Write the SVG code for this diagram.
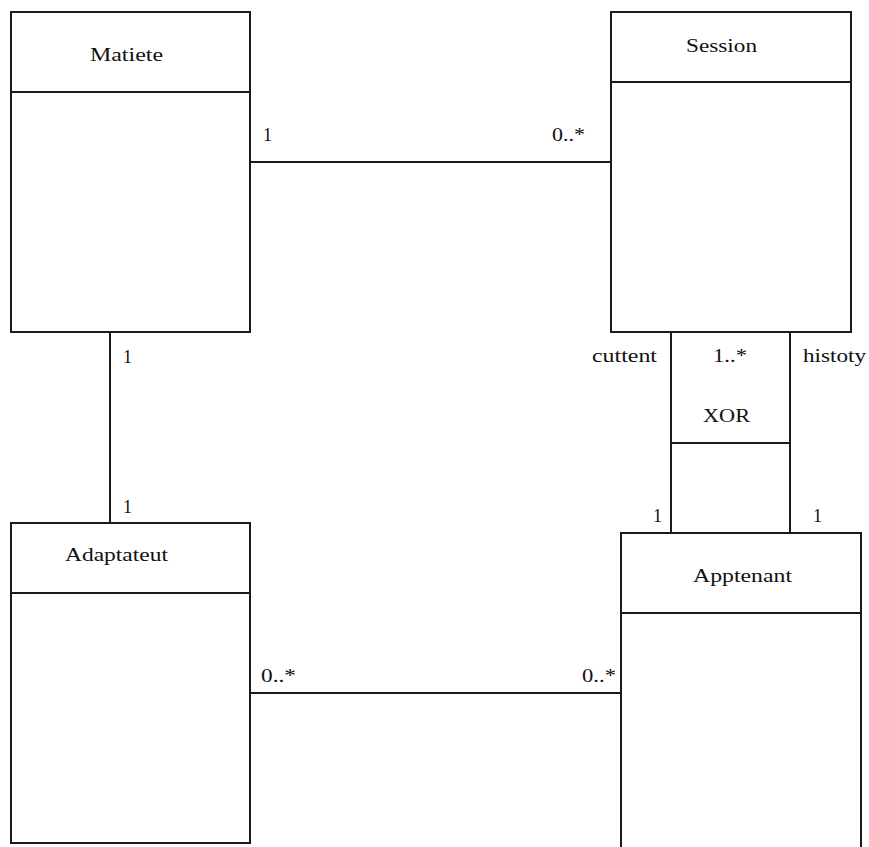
<svg xmlns="http://www.w3.org/2000/svg" width="869" height="847" viewBox="0 0 869 847">
<style>
.box{fill:#fff;stroke:#1a1a1a;stroke-width:2}
.ln{stroke:#1a1a1a;stroke-width:2;fill:none}
text{font-family:"Liberation Serif","DejaVu Serif",serif;font-size:18px;fill:#111}
</style>
<rect width="869" height="847" fill="#fff"/>
<g id="connectors">
<line class="ln" x1="250" y1="162" x2="611" y2="162"/>
<line class="ln" x1="110" y1="332" x2="110" y2="523"/>
<line class="ln" x1="250" y1="693" x2="621" y2="693"/>
<line class="ln" x1="671" y1="332" x2="671" y2="533"/>
<line class="ln" x1="790" y1="332" x2="790" y2="533"/>
<line class="ln" x1="671" y1="443" x2="790" y2="443"/>
<text x="263" y="141">1</text>
<text x="552" y="141" textLength="33" lengthAdjust="spacingAndGlyphs">0..*</text>
<text x="123" y="363">1</text>
<text x="123" y="513">1</text>
<text x="261" y="682" textLength="35" lengthAdjust="spacingAndGlyphs">0..*</text>
<text x="582" y="682" textLength="34" lengthAdjust="spacingAndGlyphs">0..*</text>
<text x="592" y="362" textLength="65" lengthAdjust="spacingAndGlyphs">cuttent</text>
<text x="713" y="362" textLength="34" lengthAdjust="spacingAndGlyphs">1..*</text>
<text x="803" y="362" textLength="63" lengthAdjust="spacingAndGlyphs">histoty</text>
<text x="703" y="422" textLength="47" lengthAdjust="spacingAndGlyphs">XOR</text>
<text x="653" y="522">1</text>
<text x="813" y="522">1</text>
</g>
<g id="matiete">
<rect class="box" x="11" y="12" width="239" height="320"/>
<line class="ln" x1="11" y1="92" x2="250" y2="92"/>
<text x="90" y="61" textLength="73" lengthAdjust="spacingAndGlyphs">Matiete</text>
</g>
<g id="session">
<rect class="box" x="611" y="12" width="240" height="320"/>
<line class="ln" x1="611" y1="82" x2="851" y2="82"/>
<text x="686" y="52" textLength="71" lengthAdjust="spacingAndGlyphs">Session</text>
</g>
<g id="adaptateut">
<rect class="box" x="11" y="523" width="239" height="320"/>
<line class="ln" x1="11" y1="593" x2="250" y2="593"/>
<text x="65" y="561" textLength="103" lengthAdjust="spacingAndGlyphs">Adaptateut</text>
</g>
<g id="apptenant">
<rect class="box" x="621" y="533" width="240" height="330"/>
<line class="ln" x1="621" y1="613" x2="861" y2="613"/>
<text x="693" y="582" textLength="99" lengthAdjust="spacingAndGlyphs">Apptenant</text>
</g>
</svg>
